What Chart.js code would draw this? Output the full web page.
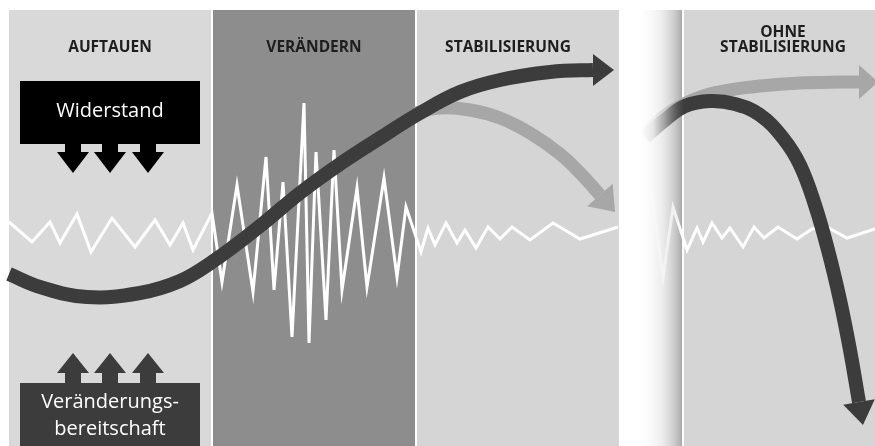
<!DOCTYPE html>
<html><head><meta charset="utf-8">
<script src="https://cdn.jsdelivr.net/npm/chart.js@4.4.1/dist/chart.umd.min.js"></script>
<style>html,body{margin:0;padding:0;background:#fff;overflow:hidden}canvas{display:block}</style>
</head><body><canvas id="c" width="875" height="446"></canvas>
<script>
// ---- phases ----
const phaseLabels = [['AUFTAUEN'], ['VERÄNDERN'], ['STABILISIERUNG'], ['OHNE', 'STABILISIERUNG']];
const phaseStart = [9, 213, 417, 684];
const phaseEnd   = [211, 415, 619, 875];

// ---- white signal (unrest) ----
const signalX = [9, 32, 50, 60, 77, 91, 112, 135, 155, 170, 183, 193, 212, 222, 237, 253, 266, 274, 283, 292, 304, 309, 316, 326, 334, 342, 357, 367, 384, 397, 406, 421, 428, 435, 446, 457, 465, 476, 488, 500, 512, 530, 553, 580, 618];
const signalY = [222, 242, 222, 243, 214, 252, 218, 247, 220, 245, 223, 250, 213, 282, 185, 292, 157, 290, 182, 337, 103, 343, 152, 320, 150, 290, 188, 287, 178, 277, 207, 252, 228, 245, 223, 243, 230, 248, 227, 239, 227, 240, 223, 239, 227];
const signal2X = [645, 650, 663, 673, 687, 697, 703, 712, 722, 730, 743, 754, 764, 778, 797, 812, 827, 847, 875];
const signal2Y = [231, 180, 277, 207, 250, 228, 242, 223, 238, 228, 247, 227, 238, 227, 239, 229, 227, 238, 229];

// ---- change curve (S-curve) ----
const changeX = [9, 40, 87, 140, 180, 212, 260, 300, 340, 380, 420, 460, 500, 550, 593, 614];
const changeY = [274, 287, 297, 293, 281, 262, 226, 193, 164, 138, 113, 92, 80, 72, 70, 70];

// ---- relapse curve (light) after stabilisation ----
const relapseX = [415, 440, 470, 500, 530, 560, 582, 600, 615];
const relapseY = [113, 108, 110, 118, 133, 154, 175, 195, 212];

// ---- without stabilisation ----
const noStabUpX = [645, 670, 700, 730, 760, 800, 840, 859, 878];
const noStabUpY = [133, 112, 97, 90, 86, 83, 82, 82, 82];
const noStabDownX = [645, 665, 685, 710, 735, 760, 783, 800, 815, 828, 840, 850, 859, 863];
const noStabDownY = [137, 120, 106, 101, 104, 115, 138, 165, 205, 250, 300, 350, 402, 425];

const pts = (xs, ys) => xs.map((x, i) => ({x, y: ys[i]}));

const DARK = '#3c3c3c', LIGHT = '#a7a7a7';
const hideLast = n => ({ borderColor: c => c.p1DataIndex === n - 1 ? 'rgba(0,0,0,0)' : undefined });

const bgPlugin = {
  id: 'bg',
  beforeDatasetsDraw(chart) {
    const {ctx, scales: {x, y}} = chart;
    const top = y.getPixelForValue(10), bot = y.getPixelForValue(446);
    const cols = ['#d9d9d9', '#8d8d8d', '#d5d5d5', '#d5d5d5'];
    ctx.save();
    phaseStart.forEach((s, i) => {
      const l = x.getPixelForValue(s), r = x.getPixelForValue(phaseEnd[i]);
      ctx.fillStyle = cols[i];
      ctx.fillRect(l, top, r - l, bot - top);
    });
    // shaded strip before the last phase
    const sl = x.getPixelForValue(638), sr = x.getPixelForValue(682);
    const g = ctx.createLinearGradient(sl, 0, sr, 0);
    g.addColorStop(0, '#ffffff');
    g.addColorStop(0.5, '#eeeeee');
    g.addColorStop(0.8, '#cfcfcf');
    g.addColorStop(0.93, '#b8b8b8');
    g.addColorStop(1, '#a8a8a8');
    ctx.fillStyle = g;
    ctx.fillRect(sl, top, sr - sl, bot - top);
    ctx.restore();
  },
  afterDatasetsDraw(chart) {
    const {ctx, scales: {x, y}} = chart;
    const top = y.getPixelForValue(10), bot = y.getPixelForValue(446);
    ctx.save();
    // fade curves inside the shaded strip
    const fl = x.getPixelForValue(619), fm = x.getPixelForValue(640), fr = x.getPixelForValue(684);
    const g = ctx.createLinearGradient(fm, 0, fr, 0);
    g.addColorStop(0, 'rgba(255,255,255,1)');
    g.addColorStop(0.3, 'rgba(248,248,248,0.9)');
    g.addColorStop(0.55, 'rgba(235,235,235,0.6)');
    g.addColorStop(0.8, 'rgba(205,205,205,0.25)');
    g.addColorStop(1, 'rgba(168,168,168,0)');
    ctx.fillStyle = '#ffffff';
    ctx.fillRect(fl, 0, fm - fl, bot);
    ctx.fillStyle = g;
    ctx.fillRect(fm, top, fr - fm, bot - top);

    // arrow heads
    chart.data.datasets.forEach((ds, i) => {
      if (!ds.arrowHead) return;
      const d = chart.getDatasetMeta(i).data;
      const tip = d[d.length - 1], base = d[d.length - 2];
      const dx = tip.x - base.x, dy = tip.y - base.y, len = Math.hypot(dx, dy);
      const px = -dy / len, py = dx / len, hw = ds.arrowHead;
      ctx.fillStyle = ds.borderColor;
      ctx.beginPath();
      ctx.moveTo(tip.x, tip.y);
      ctx.lineTo(base.x + px * hw, base.y + py * hw);
      ctx.lineTo(base.x - px * hw, base.y - py * hw);
      ctx.closePath();
      ctx.fill();
    });

    // phase titles
    const labelX = [110, 314, 508, 783];
    ctx.fillStyle = '#1e1e1e';
    ctx.textAlign = 'center';
    ctx.textBaseline = 'middle';
    ctx.font = 'bold 15.5px "Open Sans"';
    phaseLabels.forEach((lines, i) => {
      const y0 = lines.length > 1 ? 33 : 48;
      lines.forEach((t, k) => ctx.fillText(t, labelX[i], y0 + k * 14.5));
    });

    // Widerstand box with downward arrows
    const arrowCx = [73, 110, 148];
    ctx.fillStyle = '#000000';
    ctx.fillRect(20, 81, 180, 63);
    arrowCx.forEach(cx => {
      ctx.fillRect(cx - 8, 143, 16, 10);
      ctx.beginPath();
      ctx.moveTo(cx - 16, 152); ctx.lineTo(cx + 16, 152); ctx.lineTo(cx, 173); ctx.closePath(); ctx.fill();
    });
    ctx.fillStyle = '#ffffff';
    ctx.font = '500 20px "Open Sans"';
    ctx.fillText('Widerstand', 110, 111);

    // Veränderungsbereitschaft box with upward arrows
    ctx.fillStyle = DARK;
    ctx.fillRect(20, 383, 180, 63);
    arrowCx.forEach(cx => {
      ctx.fillRect(cx - 8, 372, 16, 12);
      ctx.beginPath();
      ctx.moveTo(cx - 16, 373); ctx.lineTo(cx + 16, 373); ctx.lineTo(cx, 353); ctx.closePath(); ctx.fill();
    });
    ctx.fillStyle = '#ffffff';
    ctx.fillText('Veränderungs-', 110, 402);
    ctx.fillText('bereitschaft', 110, 429);
    ctx.restore();
  }
};

new Chart(document.getElementById('c'), {
  type: 'line',
  data: {
    datasets: [
      { label: 'Veränderung', data: pts(changeX, changeY), borderColor: DARK, borderWidth: 14, tension: 0.4, order: 1, arrowHead: 16, segment: hideLast(changeX.length), borderCapStyle: 'butt' },
      { label: 'Ohne Stabilisierung', data: pts(noStabDownX, noStabDownY), borderColor: DARK, borderWidth: 14, tension: 0.4, order: 1, arrowHead: 16, segment: hideLast(noStabDownX.length), borderCapStyle: 'butt' },
      { label: 'Rückfall', data: pts(relapseX, relapseY), borderColor: LIGHT, borderWidth: 13, tension: 0.4, order: 2, arrowHead: 17, segment: hideLast(relapseX.length), borderCapStyle: 'butt' },
      { label: 'Stabil', data: pts(noStabUpX, noStabUpY), borderColor: LIGHT, borderWidth: 13, tension: 0.4, order: 2, arrowHead: 17, segment: hideLast(noStabUpX.length), borderCapStyle: 'butt' },
      { label: 'Unruhe', data: pts(signalX, signalY), borderColor: '#ffffff', borderWidth: 3, tension: 0, order: 3, borderJoinStyle: 'miter' },
      { label: 'Unruhe 2', data: pts(signal2X, signal2Y), borderColor: '#ffffff', borderWidth: 3, tension: 0, order: 3, borderJoinStyle: 'miter' }
    ]
  },
  options: {
    responsive: false,
    animation: false,
    layout: { padding: 0 },
    elements: { point: { radius: 0, hoverRadius: 0 } },
    plugins: { legend: { display: false }, tooltip: { enabled: false } },
    events: [],
    scales: {
      x: { type: 'linear', min: 0, max: 875, display: false },
      y: { type: 'linear', min: 0, max: 446, reverse: true, display: false }
    }
  },
  plugins: [bgPlugin]
});
</script>
</body></html>
